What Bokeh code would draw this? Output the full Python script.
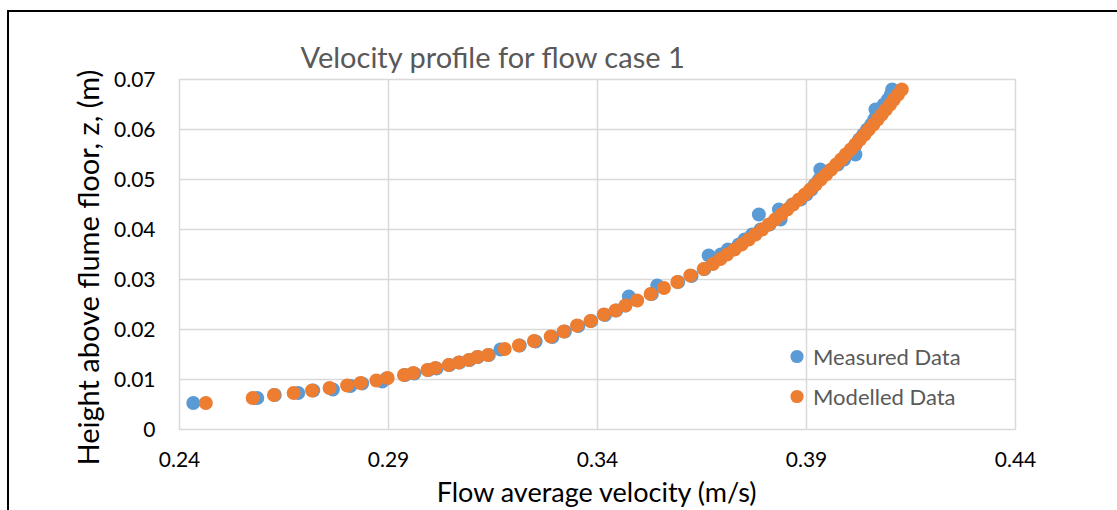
from bokeh.plotting import figure
from bokeh.layouts import column
from bokeh.models import FixedTicker, Legend, LegendItem, Range1d, Title
from bokeh.embed import file_html
from bokeh.resources import INLINE

# ---- data ----
measured_u = [0.2433, 0.2586, 0.2628, 0.2684, 0.2720, 0.2767, 0.2809, 0.2837, 0.2885, 0.2895,
              0.2940, 0.2962, 0.2996, 0.3015, 0.3046, 0.3070, 0.3094, 0.3114, 0.3140, 0.3168,
              0.3214, 0.3252, 0.3292, 0.3322, 0.3354, 0.3385, 0.3418, 0.3445, 0.3467, 0.3475,
              0.3530, 0.3543, 0.3593, 0.3625, 0.3656, 0.3666, 0.3690,
              0.3695, 0.3712, 0.3738, 0.3752, 0.3770, 0.3790, 0.3812, 0.3838, 0.3786, 0.3834,
              0.3866, 0.3886, 0.3900, 0.3912, 0.3920, 0.3930, 0.3940, 0.3933, 0.3975, 0.3990,
              0.4017, 0.4010, 0.4018, 0.4026, 0.4036, 0.4045, 0.4055, 0.4062, 0.4068, 0.4065,
              0.4085, 0.4095, 0.4102, 0.4105]
measured_z = [0.0053, 0.0063, 0.0069, 0.0073, 0.0078, 0.0080, 0.0087, 0.0092, 0.0096, 0.0102,
              0.0109, 0.0112, 0.0119, 0.0122, 0.0129, 0.0134, 0.0139, 0.0145, 0.0149, 0.0160,
              0.0168, 0.0176, 0.0185, 0.0196, 0.0207, 0.0217, 0.0229, 0.0238, 0.0248, 0.0266,
              0.0271, 0.0288, 0.0295, 0.0307, 0.0321, 0.0348, 0.0341,
              0.035, 0.036, 0.037, 0.038, 0.039, 0.040, 0.041, 0.042, 0.043, 0.044,
              0.045, 0.046, 0.047, 0.048, 0.049, 0.050, 0.051, 0.052, 0.053, 0.054,
              0.055, 0.056, 0.057, 0.058, 0.059, 0.060, 0.061, 0.062, 0.063, 0.064,
              0.065, 0.066, 0.067, 0.068]

modelled_u = [0.2463, 0.2575, 0.2626, 0.2673, 0.2717, 0.2759, 0.2801, 0.2833, 0.2871, 0.2898,
              0.2937, 0.2959, 0.2993, 0.3012, 0.3044, 0.3068, 0.3092, 0.3112, 0.3138, 0.3178,
              0.3212, 0.3248, 0.3288, 0.3319, 0.3351, 0.3383, 0.3415, 0.3443, 0.3467, 0.3495,
              0.3527, 0.3559, 0.3591, 0.3622, 0.3654, 0.3676, 0.3694,
              0.3710, 0.3728, 0.3745, 0.3762, 0.3778, 0.3794, 0.3810, 0.3825, 0.3840, 0.3854,
              0.3868, 0.3882, 0.3896, 0.3909, 0.3922, 0.3934, 0.3947, 0.3959, 0.3971, 0.3983,
              0.3994, 0.4006, 0.4017, 0.4028, 0.4039, 0.4049, 0.4060, 0.4070, 0.4080, 0.4090,
              0.4100, 0.4109, 0.4119, 0.4128]
modelled_z = [0.0053, 0.0063, 0.0069, 0.0073, 0.0078, 0.0083, 0.0088, 0.0093, 0.0098, 0.0103,
              0.0109, 0.0113, 0.0119, 0.0123, 0.0129, 0.0134, 0.0139, 0.0145, 0.0149, 0.0161,
              0.0168, 0.0177, 0.0186, 0.0196, 0.0208, 0.0217, 0.0230, 0.0238, 0.0248, 0.0258,
              0.0271, 0.0283, 0.0295, 0.0308, 0.0321, 0.0331, 0.0341,
              0.035, 0.036, 0.037, 0.038, 0.039, 0.040, 0.041, 0.042, 0.043, 0.044,
              0.045, 0.046, 0.047, 0.048, 0.049, 0.050, 0.051, 0.052, 0.053, 0.054,
              0.055, 0.056, 0.057, 0.058, 0.059, 0.060, 0.061, 0.062, 0.063, 0.064,
              0.065, 0.066, 0.067, 0.068]

x_ticks = [0.24, 0.29, 0.34, 0.39, 0.44]
x_tick_labels = ["0.24", "0.29", "0.34", "0.39", "0.44"]
y_ticks = [0.0, 0.01, 0.02, 0.03, 0.04, 0.05, 0.06, 0.07]
y_tick_labels = ["0", "0.01", "0.02", "0.03", "0.04", "0.05", "0.06", "0.07"]

title_text = "Velocity profile for flow case 1"
x_title = "Flow average velocity (m/s)"
y_title = "Height above flume floor, z, (m)"
series_names = ["Measured Data", "Modelled Data"]
series_colors = ["#5B9BD5", "#ED7D31"]

FONT = "Lato"
GRID = "#d9d9d9"

p = figure(width=1108, height=498, output_backend="svg", toolbar_location=None,
           x_range=Range1d(x_ticks[0], x_ticks[-1]), y_range=Range1d(y_ticks[0], y_ticks[-1]),
           min_border_left=170, min_border_right=102, min_border_top=67, min_border_bottom=81,
           title=title_text)
p.background_fill_color = "white"
p.border_fill_color = "white"
p.outline_line_color = GRID
p.outline_line_width = 1.5

p.title.text_font = FONT
p.title.text_font_size = "29px"
p.title.text_font_style = "normal"
p.title.text_color = "#595959"
p.title.align = "left"
p.title.offset = 121
p.title.standoff = 11

for ax, ticks, labels in ((p.xaxis[0], x_ticks, x_tick_labels), (p.yaxis[0], y_ticks, y_tick_labels)):
    ax.ticker = FixedTicker(ticks=ticks)
    ax.major_label_overrides = {t: l for t, l in zip(ticks, labels)}
    ax.axis_line_color = None
    ax.major_tick_line_color = None
    ax.minor_tick_line_color = None
    ax.major_label_text_font = FONT
    ax.major_label_text_font_size = "21px"
    ax.major_label_text_color = "#000000"
    ax.axis_label_text_font = FONT
    ax.axis_label_text_font_size = "27px"
    ax.axis_label_text_font_style = "normal"
    ax.axis_label_text_color = "#000000"

p.xaxis.axis_label = x_title
p.xaxis.major_label_standoff = 16
p.yaxis.major_label_standoff = 18
p.xaxis.axis_label_standoff = 5

ytitle = Title(text=y_title, align="left", offset=-36, standoff=13,
               text_font=FONT, text_font_size="29px", text_font_style="normal",
               text_color="#000000")
p.add_layout(ytitle, "left")

p.xgrid.ticker = FixedTicker(ticks=x_ticks)
p.ygrid.ticker = FixedTicker(ticks=y_ticks)
for g in (p.xgrid[0], p.ygrid[0]):
    g.grid_line_color = GRID
    g.grid_line_width = 1.5

r1 = p.scatter(measured_u, measured_z, size=14, color=series_colors[0], line_color=None)
r2 = p.scatter(modelled_u, modelled_z, size=14, color=series_colors[1], line_color=None)

legend = Legend(items=[LegendItem(label=series_names[0], renderers=[r1]),
                       LegendItem(label=series_names[1], renderers=[r2])],
                location=(601, 14), glyph_width=33, glyph_height=38, spacing=2,
                label_standoff=0, padding=0, margin=0,
                border_line_color=None, background_fill_alpha=0,
                label_text_font=FONT, label_text_font_size="22px", label_text_color="#595959")
p.add_layout(legend)

root = column(p, styles={"border-top": "2px solid #000000", "border-left": "2px solid #000000",
                         "margin-left": "7px", "margin-top": "10px"})

open("out.html", "w").write(file_html(root, INLINE))
